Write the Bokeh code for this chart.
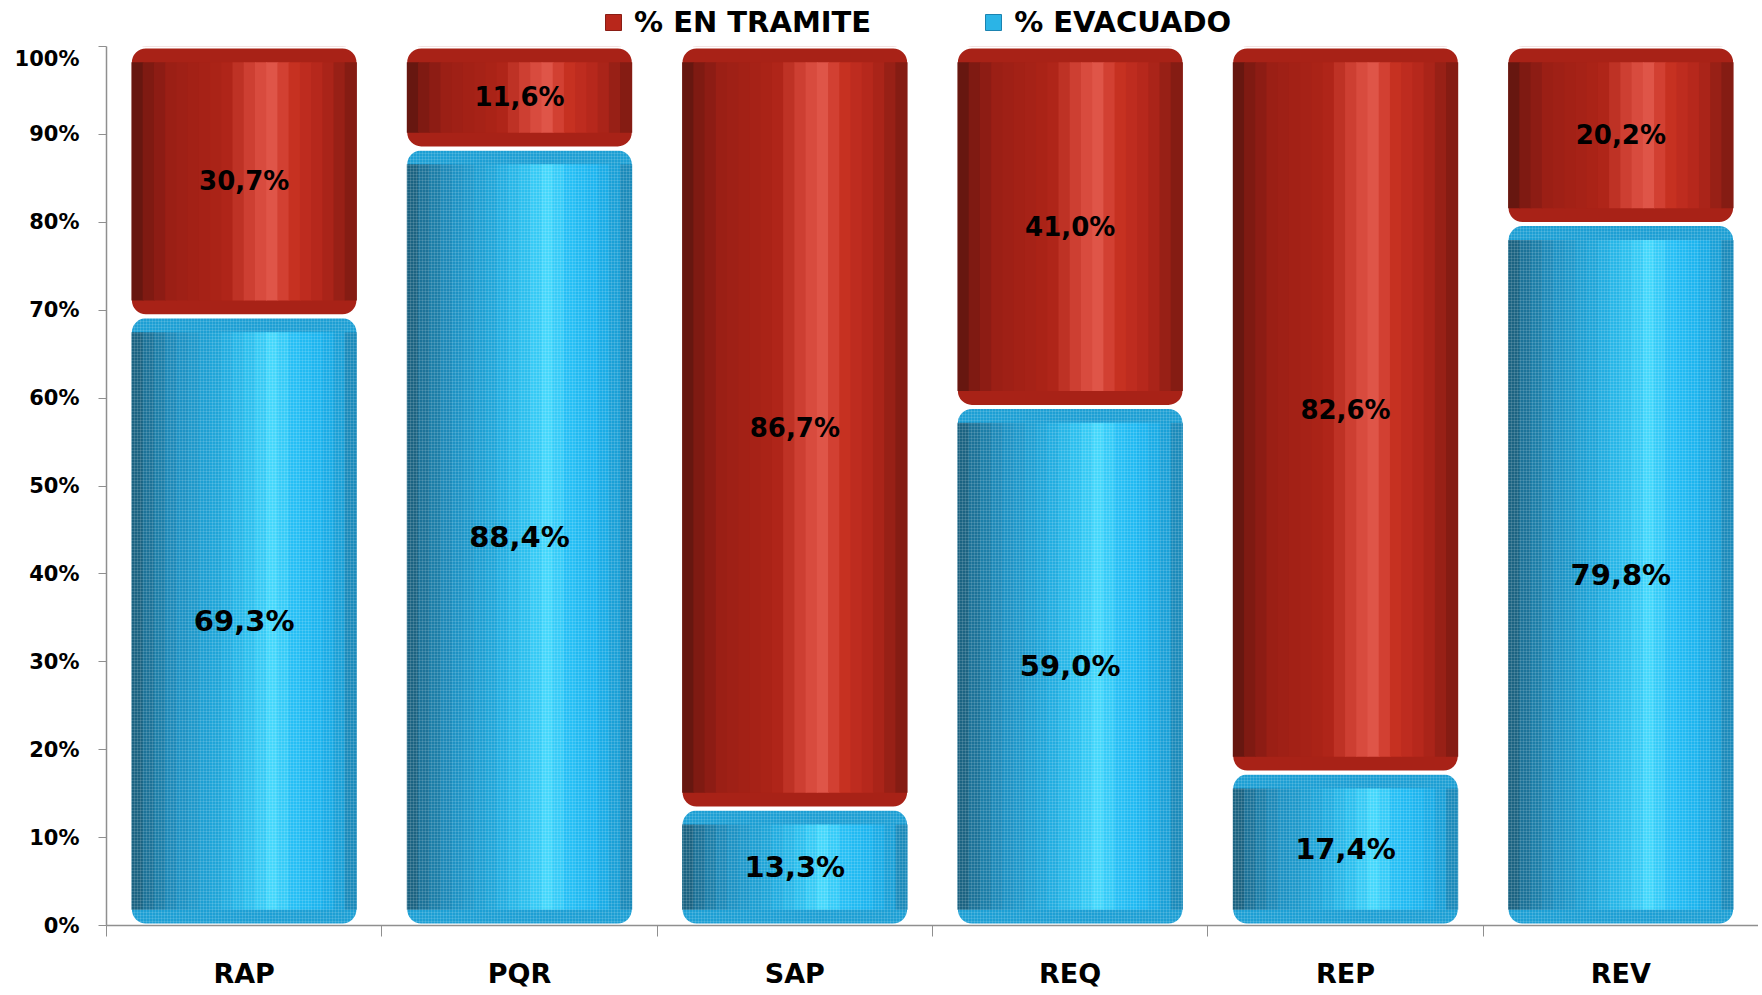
from bokeh.plotting import figure
from bokeh.layouts import column
from bokeh.models import ColumnDataSource, FixedTicker, Legend, LegendItem, Range1d
from bokeh.transform import dodge
from bokeh.core.properties import value
from bokeh.embed import file_html
from bokeh.resources import INLINE

# ---------------- data ----------------
categories = ["RAP", "PQR", "SAP", "REQ", "REP", "REV"]
evacuado = [0.693, 0.884, 0.133, 0.590, 0.174, 0.798]      # % EVACUADO
en_tramite = [0.307, 0.116, 0.867, 0.410, 0.826, 0.202]    # % EN TRAMITE
y_ticks = [0.0, 0.1, 0.2, 0.3, 0.4, 0.5, 0.6, 0.7, 0.8, 0.9, 1.0]
y_tick_labels = ["0%", "10%", "20%", "30%", "40%", "50%", "60%", "70%", "80%", "90%", "100%"]
series_names = ["% EN TRAMITE", "% EVACUADO"]

def pct(v):
    return f"{v * 100:.1f}%".replace(".", ",")

# ---------------- styles ----------------
FONT = "DejaVu Sans"
BAR_W = 0.83
RADIUS = 16
INSET = 0.018            # vertical inset (data units) of the shading stripes
EDGE = 0.0146            # horizontal inset of shading stripes (white outline)
N_STRIPES = 20
W_TOTAL = 1758
LEGEND_H = 46

red_stops = [(0.0, "#5a150f"), (0.07, "#7e1a12"), (0.18, "#9c1f15"), (0.42, "#ad2418"),
             (0.53, "#cf4033"), (0.62, "#e0574a"), (0.71, "#c93222"), (0.86, "#b0251a"),
             (1.0, "#7c1a12")]
blue_stops = [(0.0, "#1b5a75"), (0.06, "#1c6f93"), (0.2, "#1d8fc0"), (0.4, "#1fa8dc"),
              (0.55, "#2fc4f2"), (0.63, "#45d8fc"), (0.72, "#27c0f5"), (0.85, "#1ab2ee"),
              (0.95, "#1a9ad0"), (1.0, "#1c7aa3")]
RED_BASE = "#a82217"
BLUE_BASE = "#1d9fd4"
RED_KEY = "#b8271b"
BLUE_KEY = "#2bb4e6"


def hex2rgb(h):
    h = h.lstrip("#")
    return tuple(int(h[i:i + 2], 16) for i in (0, 2, 4))


def sample(stops, t):
    for (t0, c0), (t1, c1) in zip(stops[:-1], stops[1:]):
        if t0 <= t <= t1:
            f = (t - t0) / (t1 - t0) if t1 > t0 else 0
            a, b = hex2rgb(c0), hex2rgb(c1)
            return "#%02x%02x%02x" % tuple(int(round(a[i] + (b[i] - a[i]) * f)) for i in range(3))
    return stops[-1][1]


# ---------------- source ----------------
x = [i + 0.5 for i in range(len(categories))]
ev_top = list(evacuado)
tr_bot = list(evacuado)
tr_top = [e + t for e, t in zip(evacuado, en_tramite)]
src = ColumnDataSource(dict(
    x=x,
    ev_bot=[0.0] * len(x),
    ev_top=ev_top,
    tr_bot=tr_bot,
    tr_top=tr_top,
    ev_bot_in=[INSET] * len(x),
    ev_top_in=[v - INSET for v in ev_top],
    tr_bot_in=[v + INSET for v in tr_bot],
    tr_top_in=[v - INSET for v in tr_top],
    ev_mid=[v / 2 for v in ev_top],
    tr_mid=[(b + t) / 2 for b, t in zip(tr_bot, tr_top)],
    ev_lab=[pct(v) for v in evacuado],
    tr_lab=[pct(v) for v in en_tramite],
))

p = figure(width=W_TOTAL, height=991 - LEGEND_H,
           x_range=Range1d(0, len(categories)), y_range=Range1d(0, 1),
           output_backend="svg", toolbar_location=None,
           min_border_left=106, min_border_right=0, min_border_top=0, min_border_bottom=64)
p.outline_line_color = None
p.xgrid.visible = False
p.ygrid.visible = False
p.background_fill_color = "white"

# base segments (rounded, white outline gives the gap between segments)
p.vbar(x="x", width=BAR_W, bottom="ev_bot", top="ev_top", source=src,
       fill_color=BLUE_BASE, line_color="white", line_width=4, border_radius=RADIUS)
p.vbar(x="x", width=BAR_W, bottom="tr_bot", top="tr_top", source=src,
       fill_color=RED_BASE, line_color="white", line_width=4, border_radius=RADIUS)

# cylinder shading stripes
inner_w = BAR_W - EDGE
sw = inner_w / N_STRIPES
for k in range(N_STRIPES):
    t = (k + 0.5) / N_STRIPES
    off = -inner_w / 2 + (k + 0.5) * sw
    p.vbar(x=dodge("x", off, range=p.x_range), width=sw * 1.08,
           bottom="ev_bot_in", top="ev_top_in", source=src,
           fill_color=sample(blue_stops, t), line_color=None)
    p.vbar(x=dodge("x", off, range=p.x_range), width=sw * 1.08,
           bottom="tr_bot_in", top="tr_top_in", source=src,
           fill_color=sample(red_stops, t), line_color=None)

# fine mesh texture on the blue segments
p.vbar(x="x", width=BAR_W - 0.006, bottom="ev_bot", top="ev_top", source=src,
       fill_alpha=0, line_color=None, border_radius=RADIUS,
       hatch_pattern="+", hatch_scale=3, hatch_weight=0.8,
       hatch_color="white", hatch_alpha=0.16)

# data labels
p.text(x="x", y="ev_mid", text="ev_lab", source=src,
       text_align="center", text_baseline="middle",
       text_font=value(FONT), text_font_style="bold", text_font_size="29px",
       text_color="black")
p.text(x="x", y="tr_mid", text="tr_lab", source=src,
       text_align="center", text_baseline="middle",
       text_font=value(FONT), text_font_style="bold", text_font_size="26px",
       text_color="black")

# axes
AX = "#8f8f8f"
p.yaxis.ticker = FixedTicker(ticks=y_ticks, minor_ticks=[])
p.yaxis.major_label_overrides = {t: l for t, l in zip(y_ticks, y_tick_labels)}
p.yaxis.major_label_text_font = FONT
p.yaxis.major_label_text_font_style = "bold"
p.yaxis.major_label_text_font_size = "21px"
p.yaxis.major_label_text_color = "black"
p.yaxis.major_label_standoff = 19
p.yaxis.axis_line_color = AX
p.yaxis.axis_line_width = 1.5
p.yaxis.major_tick_line_color = AX
p.yaxis.major_tick_out = 8
p.yaxis.major_tick_in = 0
p.yaxis.minor_tick_line_color = None

boundaries = [float(i) for i in range(len(categories) + 1)]
p.xaxis.ticker = FixedTicker(ticks=x, minor_ticks=boundaries)
p.xaxis.major_label_overrides = {xx: c for xx, c in zip(x, categories)}
p.xaxis.major_label_text_font = FONT
p.xaxis.major_label_text_font_style = "bold"
p.xaxis.major_label_text_font_size = "27px"
p.xaxis.major_label_text_color = "black"
p.xaxis.major_label_standoff = 21
p.xaxis.axis_line_color = AX
p.xaxis.axis_line_width = 1.5
p.xaxis.major_tick_out = 0
p.xaxis.major_tick_in = 0
p.xaxis.major_tick_line_color = None
p.xaxis.minor_tick_line_color = AX
p.xaxis.minor_tick_out = 11
p.xaxis.minor_tick_in = 0

# ---------------- legend strip above the chart ----------------
lg = figure(width=W_TOTAL, height=LEGEND_H, x_range=Range1d(0, 1), y_range=Range1d(0, 1),
            x_axis_location=None, y_axis_location=None,
            output_backend="svg", toolbar_location=None,
            min_border_left=0, min_border_right=0, min_border_top=0, min_border_bottom=0)
lg.xgrid.visible = False
lg.ygrid.visible = False
lg.outline_line_color = None
# key swatches: drawn outside the strip's visible range, used only by the legend
key_red = lg.vbar(x=[5], bottom=[4], top=[5], width=0.1,
                  fill_color=RED_KEY, line_color="#8a1d14", line_width=1)
key_blue = lg.vbar(x=[5], bottom=[4], top=[5], width=0.1,
                   fill_color=BLUE_KEY, line_color="#1b83b0", line_width=1)
legend = Legend(items=[LegendItem(label=series_names[0], renderers=[key_red]),
                       LegendItem(label=series_names[1], renderers=[key_blue])],
                orientation="horizontal", location=(497, 7),
                glyph_width=20, glyph_height=20, label_standoff=11, spacing=112,
                padding=0, margin=0, border_line_color=None, background_fill_alpha=0,
                label_text_font=FONT, label_text_font_style="bold",
                label_text_font_size="29px", label_text_color="black")
lg.add_layout(legend)

layout = column(lg, p, spacing=0)
open("out.html", "w").write(file_html(layout, INLINE))
